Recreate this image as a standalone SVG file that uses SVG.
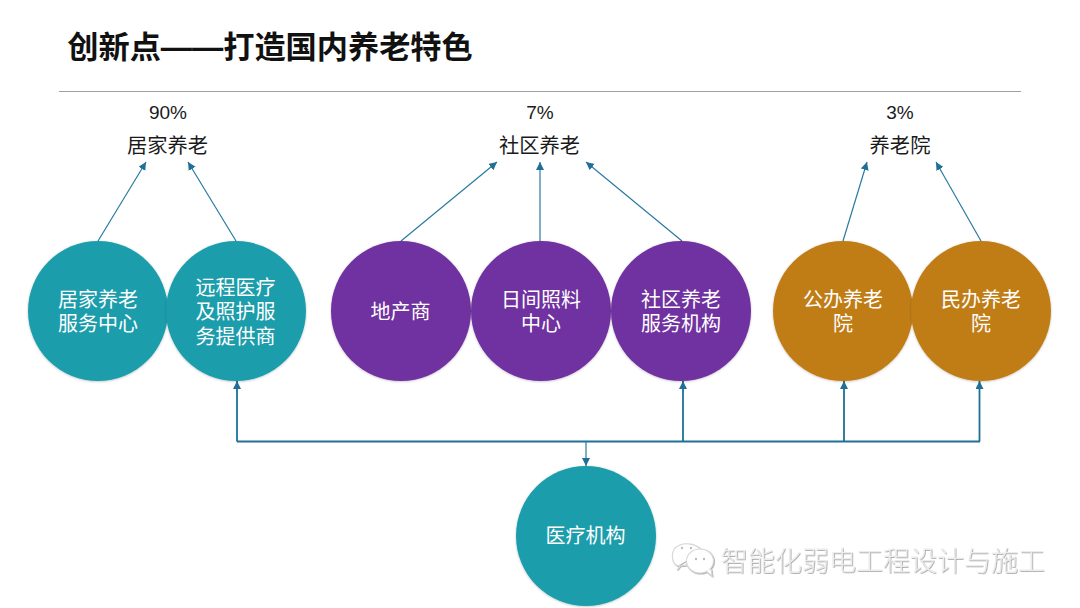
<svg xmlns="http://www.w3.org/2000/svg" width="1080" height="608" viewBox="0 0 1080 608">
<style>
text{font-family:"Liberation Sans","Noto Sans CJK SC",sans-serif;text-anchor:middle}
.t{font-size:20.300px;fill:#1a1a1a}
.p{font-size:19px;fill:#1a1a1a}
.n{font-size:20px;fill:#fff}
.c{stroke:#2a7aa0;stroke-width:1.2;fill:none}
.b{stroke:#1f6f97;stroke-width:1.8;fill:none}
.teal{fill:#1f9dab;filter:url(#s)}.pur{fill:#7030a0;filter:url(#s)}.gold{fill:#c07d16;filter:url(#s)}
</style>
<defs>
<marker id="a" markerUnits="userSpaceOnUse" markerWidth="10" markerHeight="10" refX="8" refY="4" orient="auto"><path d="M0 0L8 4L0 8Z" fill="#1f6f97"/></marker>
<filter id="s" x="-10%" y="-10%" width="120%" height="120%"><feDropShadow dx="0" dy="0.600" stdDeviation="0.800" flood-color="#000" flood-opacity=".25"/></filter>
<filter id="e" x="-5%" y="-20%" width="110%" height="140%"><feDropShadow dx="0.700" dy="0.700" stdDeviation="0.300" flood-color="#8c8c8c" flood-opacity=".9"/></filter>
</defs>
<rect width="1080" height="608" fill="#fff"/>
<text x="270" y="57.500" style="font-size:31.200px;font-weight:700;fill:#111">创新点——打造国内养老特色</text>
<line x1="59" y1="91.500" x2="1021" y2="91.500" stroke="#a0a0a0" stroke-width="1"/>
<g id="labels">
<text class="p" x="168" y="119">90%</text><text class="t" x="167.500" y="152.500">居家养老</text>
<text class="p" x="540" y="119">7%</text><text class="t" x="539.500" y="152.500">社区养老</text>
<text class="p" x="900" y="119">3%</text><text class="t" x="900" y="152.500">养老院</text>
</g>
<g id="connectors">
<path class="c" marker-end="url(#a)" d="M98 241L146 162"/>
<path class="c" marker-end="url(#a)" d="M236 241L188 162"/>
<path class="c" marker-end="url(#a)" d="M401 241L497 162"/>
<path class="c" marker-end="url(#a)" d="M540 241V162"/>
<path class="c" marker-end="url(#a)" d="M682 241L586 162"/>
<path class="c" marker-end="url(#a)" d="M843 241L867 162"/>
<path class="c" marker-end="url(#a)" d="M981 241L936 162"/>
<path class="b" d="M237 441.500H980"/>
<path class="b" marker-end="url(#a)" d="M237 441.500V381"/>
<path class="b" marker-end="url(#a)" d="M683 441.500V381"/>
<path class="b" marker-end="url(#a)" d="M844 441.500V381"/>
<path class="b" marker-end="url(#a)" d="M979.500 441.500V381"/>
<path class="c" marker-end="url(#a)" d="M586 441.500V466"/>
</g>
<g id="n1"><circle class="teal" cx="98" cy="311" r="70"/><text class="n" x="98" y="306.500">居家养老</text><text class="n" x="98" y="330.500">服务中心</text></g>
<g id="n2"><circle class="teal" cx="236" cy="311" r="70"/><text class="n" x="235.500" y="294.500">远程医疗</text><text class="n" x="235.500" y="318.500">及照护服</text><text class="n" x="235.500" y="343.500">务提供商</text></g>
<g id="n3"><circle class="pur" cx="401" cy="311" r="70"/><text class="n" x="400.500" y="318.500">地产商</text></g>
<g id="n4"><circle class="pur" cx="541" cy="311" r="70"/><text class="n" x="541" y="306.500">日间照料</text><text class="n" x="541" y="330.500">中心</text></g>
<g id="n5"><circle class="pur" cx="681" cy="311" r="70"/><text class="n" x="681" y="306.500">社区养老</text><text class="n" x="681" y="330.500">服务机构</text></g>
<g id="n6"><circle class="gold" cx="843" cy="311" r="70"/><text class="n" x="843" y="306.500">公办养老</text><text class="n" x="843" y="330.500">院</text></g>
<g id="n7"><circle class="gold" cx="981" cy="311" r="70"/><text class="n" x="981" y="306.500">民办养老</text><text class="n" x="981" y="330.500">院</text></g>
<g id="n8"><circle class="teal" cx="586" cy="536" r="70"/><text class="n" x="585.500" y="543">医疗机构</text></g>
<g id="watermark">
<g filter="url(#e)" fill="#fff" stroke="#d8d8d8" stroke-width="1.100">
<path d="M678 566C670 562 671 549 678 546C686 541 698 545 702 551"/>
<path d="M679 566L687 565M680 566L677 570"/>
<ellipse cx="700" cy="561" rx="13.500" ry="12"/>
<path d="M706 571L712 576L711 569"/>
</g>
<g fill="#bdbdbd"><circle cx="682" cy="548" r="1.200"/><circle cx="691" cy="548" r="1.200"/><circle cx="696" cy="559" r="1.200"/><circle cx="704" cy="559" r="1.200"/></g>
<text x="883" y="570.500" filter="url(#e)" style="font-size:27px;font-weight:300;fill:#ececec">智能化弱电工程设计与施工</text>
</g>
</svg>
